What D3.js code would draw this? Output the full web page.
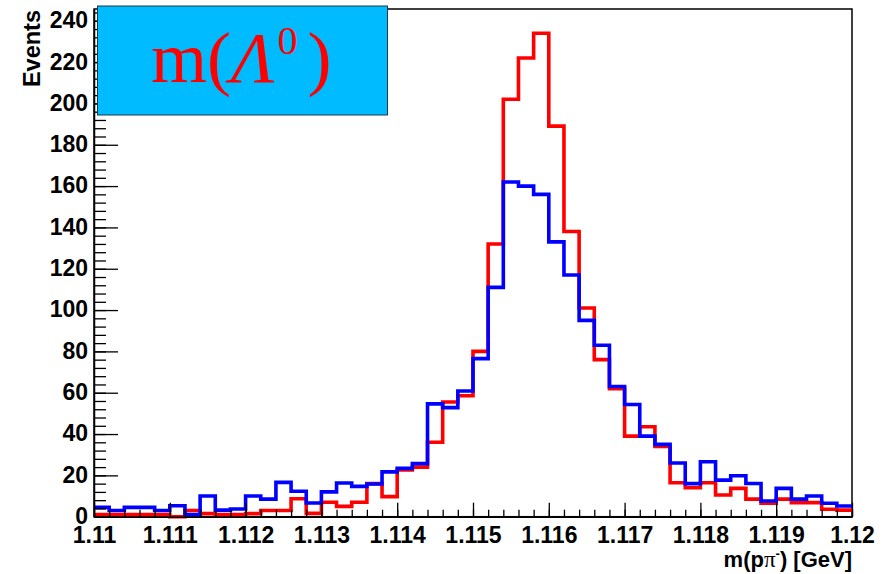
<!DOCTYPE html>
<html>
<head>
<meta charset="utf-8">
<script src="https://cdn.jsdelivr.net/npm/d3@7"></script>
<style>
  body { margin: 0; background: #fff; }
  svg { display: block; }
  .tick text { font-family: "Liberation Sans", Arial, sans-serif; font-weight: bold; font-size: 23px; fill: #000; }
</style>
</head>
<body>
<svg id="chart" width="895" height="574"></svg>
<script>
// histogram range, 50 bins of 0.0002 GeV
const xMin = 1.11;
const xMax = 1.12;
const binWidth = 0.0002;

// red histogram counts per bin
const redCounts = [
  1, 1, 1, 1, 1, 0, 3, 1.5, 1, 1,
  1.5, 3, 3, 8.7, 1.6, 7, 5, 7, 16, 9.7,
  22.6, 24, 36, 55.5, 58.5, 80, 132, 202, 222, 234,
  189, 138, 101, 76, 62, 39, 43.5, 34, 16.4, 14,
  16.4, 10.5, 13.7, 8.5, 6.5, 8.5, 6.8, 6.8, 3.6, 3.2
];

// blue histogram counts per bin
const blueCounts = [
  4.5, 3, 4.5, 4.5, 3, 5.3, 1, 10, 3.2, 3.7,
  10, 8.5, 16.6, 12.3, 6.6, 12, 16.3, 14.7, 15.8, 21.7,
  23.4, 25.7, 54.6, 52.8, 60.8, 76.5, 111, 162, 160, 156,
  133, 117, 95, 83, 63, 54.3, 39, 35, 26, 16,
  26.6, 17.7, 19.8, 16.1, 7.6, 13.7, 8.5, 10, 6.5, 5.2
];

const xMajorTicks = [1.11, 1.111, 1.112, 1.113, 1.114, 1.115, 1.116, 1.117, 1.118, 1.119, 1.12];
const yMajorTicks = [0, 20, 40, 60, 80, 100, 120, 140, 160, 180, 200, 220, 240];
const yMax = 245.7;

const svg = d3.select('#chart');

const frameLeft = 94;
const frameRight = 852;
const frameTop = 9;
const frameBottom = 516.7;

const x = d3.scaleLinear().domain([xMin, xMax]).range([frameLeft, frameRight]);
const y = d3.scaleLinear().domain([0, yMax]).range([frameBottom, frameTop]);

// minor tick values
const xMinorTicks = d3.range(0, 51).map(i => xMin + i * binWidth);
const yMinorTicks = d3.range(0, yMax, 4);

// frame
svg.append('rect')
  .attr('x', frameLeft)
  .attr('y', frameTop)
  .attr('width', frameRight - frameLeft)
  .attr('height', frameBottom - frameTop)
  .attr('fill', 'none')
  .attr('stroke', '#000')
  .attr('stroke-width', 1.5);

// histogram outlines
const stepLine = d3.line()
  .x(d => x(d[0]))
  .y(d => y(d[1]))
  .curve(d3.curveStepAfter);

const toPoints = counts => {
  const pts = counts.map((c, i) => [xMin + i * binWidth, c]);
  pts.push([xMax, counts[counts.length - 1]]);
  return pts;
};

const histGroup = svg.append('g');

histGroup.append('path')
  .attr('d', stepLine(toPoints(redCounts)))
  .attr('fill', 'none')
  .attr('stroke', '#ff0000')
  .attr('stroke-width', 3.6);

histGroup.append('path')
  .attr('d', stepLine(toPoints(blueCounts)))
  .attr('fill', 'none')
  .attr('stroke', '#0000ff')
  .attr('stroke-width', 3.6);

// x axis, ticks drawn inside the frame
svg.append('g')
  .attr('transform', `translate(0,${frameBottom})`)
  .call(d3.axisBottom(x).tickValues(xMinorTicks).tickSizeInner(-7).tickSizeOuter(0).tickFormat(''))
  .call(g => g.select('.domain').remove())
  .call(g => g.selectAll('.tick line').attr('stroke-width', 1.3));

svg.append('g')
  .attr('transform', `translate(0,${frameBottom})`)
  .call(d3.axisBottom(x)
    .tickValues(xMajorTicks)
    .tickSizeInner(-14)
    .tickSizeOuter(0)
    .tickPadding(9.5)
    .tickFormat(d => String(+d.toFixed(3))))
  .call(g => g.select('.domain').attr('stroke-width', 1.5))
  .call(g => g.selectAll('.tick line').attr('stroke-width', 1.3));

// y axis
svg.append('g')
  .attr('transform', `translate(${frameLeft},0)`)
  .call(d3.axisLeft(y).tickValues(yMinorTicks).tickSizeInner(-12).tickSizeOuter(0).tickFormat(''))
  .call(g => g.select('.domain').remove())
  .call(g => g.selectAll('.tick line').attr('stroke-width', 1.3));

svg.append('g')
  .attr('transform', `translate(${frameLeft},0)`)
  .call(d3.axisLeft(y)
    .tickValues(yMajorTicks)
    .tickSizeInner(-24)
    .tickSizeOuter(0)
    .tickPadding(6))
  .call(g => g.select('.domain').attr('stroke-width', 1.5))
  .call(g => g.selectAll('.tick line').attr('stroke-width', 1.3))
  .call(g => g.selectAll('.tick text').attr('dy', '0.3em'));

// axis titles
const xTitle = svg.append('text')
  .attr('x', frameRight)
  .attr('y', 567)
  .attr('text-anchor', 'end')
  .style('font-family', '"Liberation Sans", Arial, sans-serif')
  .style('font-weight', 'bold')
  .style('font-size', '22px');
xTitle.append('tspan').text('m(p');
xTitle.append('tspan').style('font-weight', 'normal').style('font-family', '"Liberation Serif", serif').style('font-size', '23px').text('π');
xTitle.append('tspan').attr('dy', -9).style('font-size', '13px').text('-');
xTitle.append('tspan').attr('dy', 9).text(') [GeV]');

svg.append('text')
  .attr('transform', 'translate(40,10) rotate(-90)')
  .attr('text-anchor', 'end')
  .style('font-family', '"Liberation Sans", Arial, sans-serif')
  .style('font-weight', 'bold')
  .style('font-size', '23.5px')
  .text('Events');

// title box
svg.append('rect')
  .attr('x', 97.5)
  .attr('y', 6)
  .attr('width', 290)
  .attr('height', 109)
  .attr('fill', '#00bbff')
  .attr('stroke', '#1a3a4a')
  .attr('stroke-width', 1);

const title = svg.append('text')
  .attr('x', 151)
  .attr('y', 82)
  .attr('fill', '#ff0000')
  .style('font-family', '"Liberation Serif", "Times New Roman", serif')
  .style('font-size', '72px');
title.append('tspan').text('m(');
title.append('tspan').style('font-style', 'italic').text('Λ');
title.append('tspan').attr('dy', -28).attr('dx', 3).style('font-size', '40px').text('0');
title.append('tspan').attr('dy', 28).attr('dx', 10).text(')');
</script>
</body>
</html>
